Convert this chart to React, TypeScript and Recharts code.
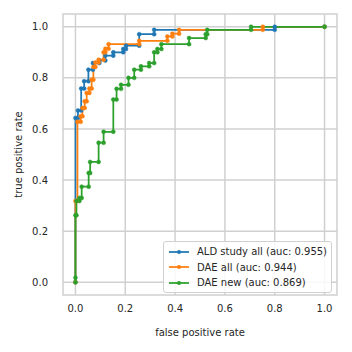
import { LineChart, Line, XAxis, YAxis, CartesianGrid, ReferenceArea } from "recharts";

// ROC points (fpr, tpr)
const aldFpr = [0, 0, 0.01, 0.01, 0.023, 0.023, 0.035, 0.035, 0.052, 0.052, 0.07, 0.07, 0.096, 0.096, 0.12, 0.12, 0.152, 0.152, 0.192, 0.192, 0.203, 0.203, 0.256, 0.256, 0.316, 0.316, 0.8, 0.8, 1];
const aldTpr = [0, 0.643, 0.643, 0.672, 0.672, 0.758, 0.758, 0.787, 0.787, 0.832, 0.832, 0.858, 0.858, 0.868, 0.868, 0.887, 0.887, 0.9, 0.9, 0.913, 0.913, 0.926, 0.926, 0.971, 0.971, 0.988, 0.988, 1, 1];

const daeAllFpr = [0, 0, 0.008, 0.008, 0.021, 0.021, 0.028, 0.028, 0.037, 0.037, 0.045, 0.045, 0.056, 0.056, 0.065, 0.065, 0.072, 0.072, 0.08, 0.08, 0.093, 0.093, 0.113, 0.113, 0.12, 0.12, 0.133, 0.133, 0.256, 0.256, 0.369, 0.369, 0.389, 0.389, 0.416, 0.416, 0.752, 0.752, 1];
const daeAllTpr = [0, 0.318, 0.318, 0.628, 0.628, 0.65, 0.65, 0.682, 0.682, 0.708, 0.708, 0.741, 0.741, 0.758, 0.758, 0.793, 0.793, 0.843, 0.843, 0.86, 0.86, 0.871, 0.871, 0.9, 0.9, 0.914, 0.914, 0.932, 0.932, 0.945, 0.945, 0.962, 0.962, 0.973, 0.973, 0.988, 0.988, 1, 1];

const daeNewFpr = [0, 0, 0, 0.004, 0.004, 0.016, 0.016, 0.025, 0.025, 0.053, 0.053, 0.059, 0.059, 0.093, 0.093, 0.113, 0.113, 0.152, 0.152, 0.165, 0.165, 0.183, 0.183, 0.213, 0.213, 0.236, 0.236, 0.263, 0.263, 0.296, 0.296, 0.316, 0.316, 0.329, 0.329, 0.345, 0.345, 0.456, 0.456, 0.523, 0.523, 0.529, 0.529, 0.705, 0.705, 1];
const daeNewTpr = [0, 0.018, 0.262, 0.262, 0.318, 0.318, 0.33, 0.33, 0.374, 0.374, 0.428, 0.428, 0.471, 0.471, 0.546, 0.546, 0.589, 0.589, 0.715, 0.715, 0.757, 0.757, 0.773, 0.773, 0.8, 0.8, 0.832, 0.832, 0.845, 0.845, 0.858, 0.858, 0.9, 0.9, 0.913, 0.913, 0.932, 0.932, 0.956, 0.956, 0.971, 0.971, 0.988, 0.988, 1, 1];

const seriesNames = ["ALD study all (auc: 0.955)", "DAE all (auc: 0.944)", "DAE new (auc: 0.869)"];
const seriesColors = ["#1f77b4", "#ff7f0e", "#2ca02c"];
const ticks = [0, 0.2, 0.4, 0.6, 0.8, 1.0];

const toPoints = (fpr: number[], tpr: number[]) => fpr.map((x, i) => ({ fpr: x, tpr: tpr[i] }));
const series = [toPoints(aldFpr, aldTpr), toPoints(daeAllFpr, daeAllTpr), toPoints(daeNewFpr, daeNewTpr)];

const FONT = "DejaVu Sans";
const TEXT = "#262626";
const GRID = "#d0d0d0";
const FS = 10;

const LegendBox = () => (
  <div style={{ position: "absolute", left: 163, top: 241, border: `1px solid ${GRID}`, borderRadius: 3, background: "rgba(255,255,255,0.85)", padding: "2px 4px 1px 4px", fontFamily: FONT, fontSize: FS, color: TEXT, whiteSpace: "nowrap" }}>
    {seriesNames.map((n, i) => (
      <div key={n} style={{ display: "flex", alignItems: "center", height: 15.5 }}>
        <svg width={22} height={8} style={{ marginRight: 7 }}>
          <line x1={1} y1={4} x2={21} y2={4} stroke={seriesColors[i]} strokeWidth={1.75} />
          <circle cx={11} cy={4} r={2} fill={seriesColors[i]} />
        </svg>
        <span>{n}</span>
      </div>
    ))}
  </div>
);

export default function App() {
  return (
    <div style={{ position: "absolute", left: 0, top: 0, width: 352, height: 352, background: "#fff" }}>
      <LineChart width={352} height={352} margin={{ top: 14, right: 15, left: 0, bottom: 0 }}>
        <CartesianGrid stroke={GRID} strokeWidth={1.5} horizontalValues={ticks} verticalValues={ticks} />
        <ReferenceArea x1={-0.05} x2={1.05} y1={-0.05} y2={1.05} fill="none" stroke={GRID} strokeWidth={1.5} />
        <XAxis
          type="number"
          dataKey="fpr"
          domain={[-0.05, 1.05]}
          ticks={ticks}
          allowDataOverflow
          tickFormatter={(v: number) => v.toFixed(1)}
          axisLine={false}
          tickLine={false}
          tickSize={0}
          tickMargin={10}
          height={57}
          tick={{ fontSize: FS, fill: TEXT, fontFamily: FONT }}
          label={{ value: "false positive rate", position: "insideBottom", offset: 16, fontSize: FS, fill: TEXT, fontFamily: FONT }}
        />
        <YAxis
          type="number"
          dataKey="tpr"
          domain={[-0.05, 1.05]}
          ticks={ticks}
          allowDataOverflow
          tickFormatter={(v: number) => v.toFixed(1)}
          axisLine={false}
          tickLine={false}
          tickSize={0}
          tickMargin={15}
          width={63}
          tick={{ fontSize: FS, fill: TEXT, fontFamily: FONT }}
          label={{ value: "true positive rate", angle: -90, position: "insideLeft", offset: 18, fontSize: FS, fill: TEXT, fontFamily: FONT, style: { textAnchor: "middle" } }}
        />
        {series.map((d, i) => (
          <Line
            key={seriesNames[i]}
            data={d}
            dataKey="tpr"
            name={seriesNames[i]}
            type="linear"
            stroke={seriesColors[i]}
            strokeWidth={1.75}
            dot={{ r: 2, fill: seriesColors[i], stroke: seriesColors[i], strokeWidth: 0.5 }}
            isAnimationActive={false}
          />
        ))}
      </LineChart>
      <LegendBox />
    </div>
  );
}
